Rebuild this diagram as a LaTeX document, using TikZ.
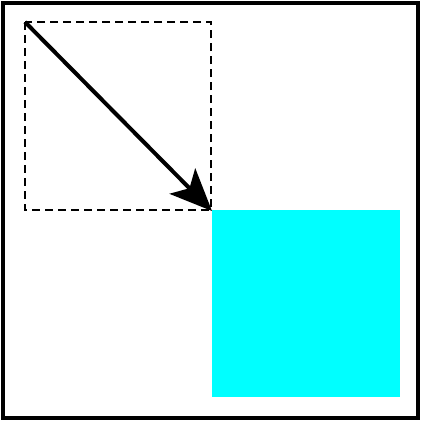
\documentclass[tikz,border=0pt]{standalone}
\usetikzlibrary{arrows.meta}
\definecolor{aqua}{RGB}{0,255,255}
\begin{document}
\begin{tikzpicture}[x=1pt,y=-1pt,
  frame/.style={draw=black,line width=4pt},
  dashbox/.style={draw=black,line width=1.5pt,dash pattern=on 8pt off 5pt},
  fillbox/.style={fill=aqua,draw=none},
  arrowline/.style={draw=black,line width=4pt,-{Stealth[length=42pt,width=36pt,inset=10pt]}}]
\useasboundingbox (0,0) rectangle (421,421);
\draw[frame] (2.5,2.5) rectangle (417.5,417.5);
\fill[fillbox] (212,210) rectangle (400,397);
\draw[dashbox] (25,22) rectangle (211,210);
\coordinate (s) at (25,22);
\coordinate (e) at (212,211);
\draw[arrowline] (s) -- (e);
\end{tikzpicture}
\end{document}
